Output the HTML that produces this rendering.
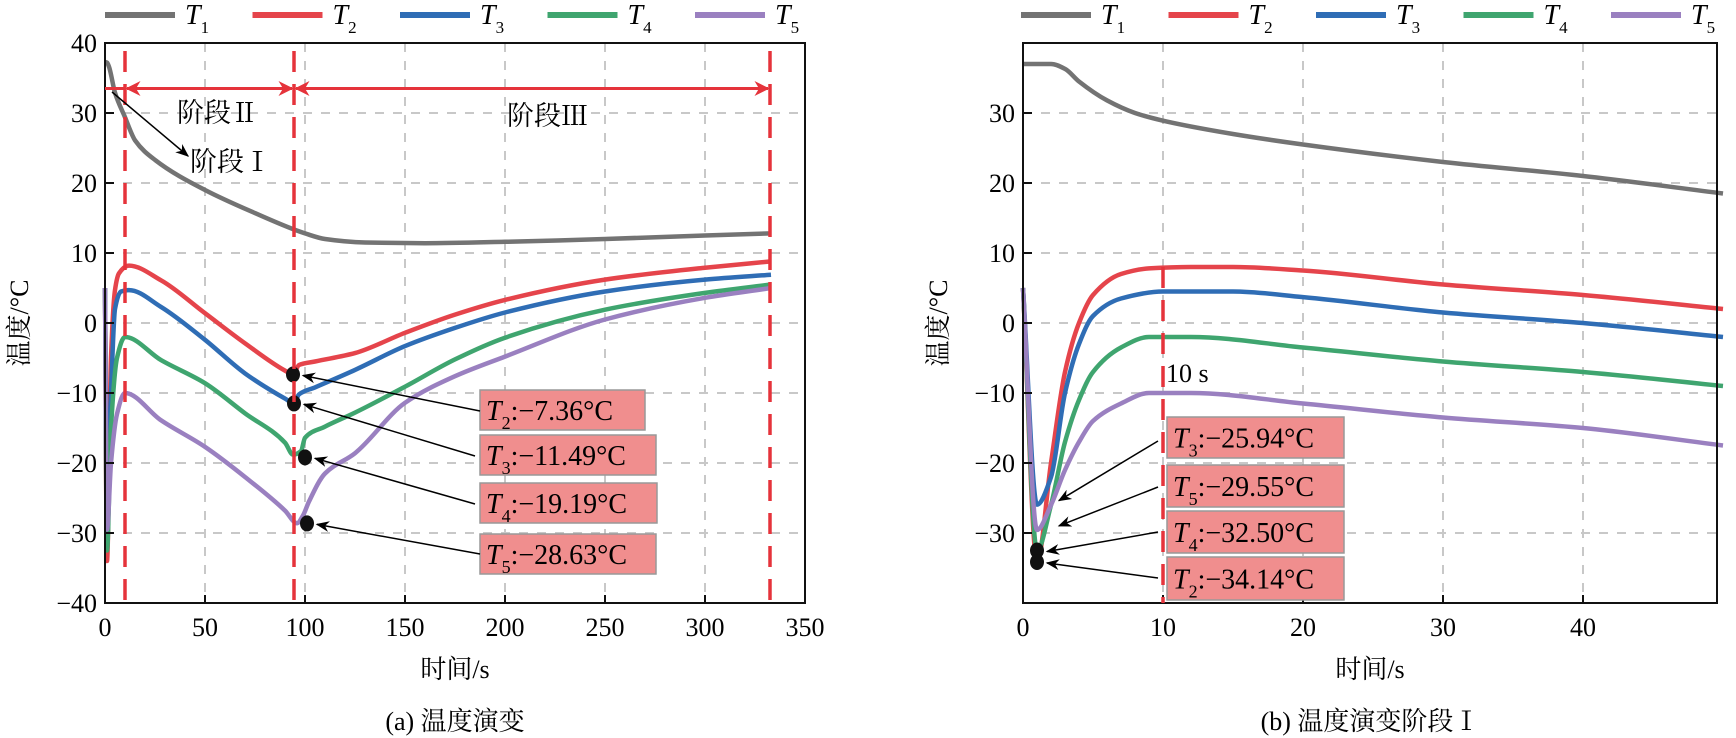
<!DOCTYPE html>
<html><head><meta charset="utf-8">
<style>
html,body{margin:0;padding:0;background:#fff;}
svg, svg text{font-family:"Liberation Serif","Noto Serif CJK SC",serif;}
svg{display:block;}
</style></head>
<body>
<svg id="chart" width="1736" height="738" viewBox="0 0 1736 738" xmlns="http://www.w3.org/2000/svg">
<defs>
<marker id="ah" viewBox="0 0 10 10" refX="9" refY="5" markerWidth="9" markerHeight="9" orient="auto-start-reverse"><path d="M0,1 L10,5 L0,9 L3,5 z" fill="#000"/></marker>
<marker id="ahr" viewBox="0 0 10 10" refX="9" refY="5" markerWidth="5" markerHeight="5" orient="auto-start-reverse"><path d="M0,0 L10,5 L0,10 L3,5 z" fill="#e5333b"/></marker>
</defs>
<g id="root"></g>
</svg>
<script>
// ---- data: panel (a) ----
const seriesNames = ["T1","T2","T3","T4","T5"];
const aT1x = [0,1,2,5,10,15,25,50,75,95,100,110,130,160,200,250,300,333];
const aT1y = [37.3,37.2,36.6,32.9,29.4,26.1,23.3,19,15.7,13.3,12.8,12.0,11.5,11.4,11.6,12.0,12.5,12.8];
const aT2x = [0,1,3,5,7,12,28,50,70,90,94,97,105,125,150,175,200,250,300,333];
const aT2y = [5,-34,-5,4.7,7.1,8.2,6.1,1.4,-2.9,-6.8,-7.36,-6.0,-5.5,-4.3,-1.4,1.2,3.3,6.2,7.9,8.8];
const aT3x = [0,1,3,5,8,12,28,50,70,90,94.5,97,105,125,150,175,200,250,300,333];
const aT3y = [5,-26,-10,2,4.5,4.7,2.3,-2.4,-7.2,-10.8,-11.49,-10.2,-9.2,-6.7,-3.3,-0.7,1.5,4.5,6.2,6.9];
const aT4x = [0,1,3,6,10,28,50,70,90,94,98,100,110,125,150,175,200,250,300,333];
const aT4y = [5,-32.5,-15,-5,-2,-5.3,-8.6,-12.9,-17.1,-18.8,-18.3,-16.4,-14.8,-12.8,-9.1,-5.2,-2.1,1.9,4.3,5.5];
const aT5x = [0,1,3,6,10,28,50,70,90,96,99,102,110,125,150,175,200,250,300,333];
const aT5y = [5,-29.5,-20,-13,-10,-13.9,-17.7,-22,-26.8,-28.6,-27.5,-25.5,-21.5,-18.6,-11.4,-7.6,-4.8,0.5,3.6,5.0];
const aMarkX = [94,94.5,100,101];
const aMarkY = [-7.36,-11.49,-19.19,-28.63];
const aMarkShow = [1,1,1,1];
const aMarkLabels = ["2:−7.36°C","3:−11.49°C","4:−19.19°C","5:−28.63°C"];
const aStageX = [10,94.5,332.5];
// ---- data: panel (b) ----
const bT1x = [0,2,3,4,6,8,10,15,20,30,40,50];
const bT1y = [37,37,36.3,34.5,31.8,30,28.9,27,25.5,23,21,18.5];
const bT2x = [0,1,2,3,4,5,7,9,12,15,20,30,40,50];
const bT2y = [5,-34.14,-20,-7,0,4,7,7.8,8,8,7.5,5.5,4,2];
const bT3x = [0,1,2,3,4,5,7,10,15,20,30,40,50];
const bT3y = [5,-25.94,-22,-10,-3,1,3.5,4.5,4.5,3.7,1.5,0,-2];
const bT4x = [0,1,2,3,4,5,7,9,12,20,30,40,50];
const bT4y = [5,-32.5,-26,-17,-11,-7,-3.5,-2,-2,-3.5,-5.5,-7,-9];
const bT5x = [0,1,2,3,4,5,7,9,12,20,30,40,50];
const bT5y = [5,-29.55,-26,-21,-17,-14,-11.5,-10,-10,-11.5,-13.5,-15,-17.5];
const bMarkX = [1,1,1,1];
const bMarkY = [-25.94,-29.55,-32.5,-34.14];
const bMarkShow = [0,0,1,1];
const bMarkLabels = ["3:−25.94°C","5:−29.55°C","4:−32.50°C","2:−34.14°C"];
const xTicksA = [0,50,100,150,200,250,300,350];
const xTicksB = [0,10,20,30,40];
const yTicksA = [40,30,20,10,0,-10,-20,-30,-40];
const yTicksB = [30,20,10,0,-10,-20,-30];

const colors = ["#737373","#e5444b","#2f6db5","#3fa56f","#9a80c0"];
const FONT = '"Liberation Serif","Noto Serif CJK SC",serif';
const NS = "http://www.w3.org/2000/svg";
const root = document.getElementById("root");
function el(tag, attrs, parent, text){
  const e = document.createElementNS(NS, tag);
  for (const k in attrs) e.setAttribute(k, attrs[k]);
  if (tag === "text") e.setAttribute("font-family", FONT);
  if (text !== undefined) e.textContent = text;
  (parent||root).appendChild(e);
  return e;
}
const TOP=43, BOT=603;
function yS(v){ return 323 - v*7; }
function xA(v){ return 105 + v*2; }
function xB(v){ return 1023 + v*14; }

// monotone cubic path
function smoothPath(X, Y){
  const n = X.length, d=[], m=[];
  for (let i=0;i<n-1;i++) d.push((Y[i+1]-Y[i])/(X[i+1]-X[i]));
  m[0]=d[0]; m[n-1]=d[n-2];
  for (let i=1;i<n-1;i++){ m[i] = (d[i-1]*d[i]<=0)?0:(3*(d[i-1]+d[i]))/((2/d[i-1])+(1/d[i-1])+(1/d[i])+(2/d[i])) ; 
    const w1=2*(X[i+1]-X[i])+(X[i]-X[i-1]), w2=(X[i+1]-X[i])+2*(X[i]-X[i-1]);
    if (d[i-1]*d[i]>0) m[i]=(w1+w2)/(w1/d[i-1]+w2/d[i]); }
  let s = "M"+X[0].toFixed(1)+","+Y[0].toFixed(1);
  for (let i=0;i<n-1;i++){
    const h=(X[i+1]-X[i])/3;
    s += " C"+(X[i]+h).toFixed(1)+","+(Y[i]+m[i]*h).toFixed(1)+" "+(X[i+1]-h).toFixed(1)+","+(Y[i+1]-m[i+1]*h).toFixed(1)+" "+X[i+1].toFixed(1)+","+Y[i+1].toFixed(1);
  }
  return s;
}

function panel(name, x0, x1, xs, xTicks, yTicks, sets, marks, show, labels, boxes, arrowStarts){
  const g = el("g", {});
  
  
  xTicks.forEach(t=>{ if(t===0) return; const X=xs(t); if(X>=x1) return;
    const l = el("line",{x1:X,x2:X,y1:TOP,y2:BOT,stroke:"#c8c8c8","stroke-width":2,"stroke-dasharray":"9,9"},g);
      });
  yTicks.forEach(t=>{ const Y=yS(t); if(Y<=TOP+1||Y>=BOT-1) return;
    const l = el("line",{x1:x0,x2:x1,y1:Y,y2:Y,stroke:"#c8c8c8","stroke-width":2,"stroke-dasharray":"9,9"},g);
      });
  sets.forEach((s,i)=>{
    const d = smoothPath(s[0].map(xs), s[1].map(yS));
    const p = el("path",{d:d,fill:"none",stroke:colors[i],"stroke-width":4.5,"stroke-linejoin":"round"},g);
    
    
  });
  const fr = el("rect",{x:x0,y:TOP,width:x1-x0,height:BOT-TOP,fill:"none",stroke:"#111","stroke-width":2},g);
   
  xTicks.forEach(t=>{ const X=xs(t);
    const l=el("line",{x1:X,x2:X,y1:BOT,y2:BOT-8,stroke:"#111","stroke-width":2},g);
     
    const tx=el("text",{x:X,y:BOT+33,"font-size":26,"text-anchor":"middle"},g,String(t));
      });
  yTicks.forEach(t=>{ const Y=yS(t);
    const l=el("line",{x1:x0,x2:x0+9,y1:Y,y2:Y,stroke:"#111","stroke-width":2},g);
     
    const tx=el("text",{x:x0-8,y:Y+9,"font-size":26,"text-anchor":"end"},g,t<0?"−"+(-t):String(t));
      });
  marks[0].forEach((mx,i)=>{
    const b = boxes[i];
    const r = el("rect",{x:b[0],y:b[1],width:b[2],height:b[3],fill:"#f08e8e",stroke:"#999","stroke-width":1.5},g);
     
    const t = el("text",{x:b[0]+6,y:b[1]+b[3]/2+10,"font-size":28},g);
     
    const lab = labels[i];
    el("tspan",{"font-style":"italic"},t,"T");
    el("tspan",{"font-size":18,dy:9},t,lab[0]);
    el("tspan",{dy:-9},t,lab.slice(1));
    const a = arrowStarts[i];
    const ar = el("line",{x1:a[0],y1:a[1],x2:xs(mx)+(show[i]?10:22),y2:yS(marks[1][i])+(show[i]?1:-4),stroke:"#000","stroke-width":1.5,"marker-end":"url(#ah)"},g);
     
    if (show[i]) {
      const c = el("ellipse",{cx:xs(mx),cy:yS(marks[1][i]),rx:7,ry:8,fill:"#111"},g);
       
    }
  });
  return g;
}

function legend(x0){
  seriesNames.forEach((n,i)=>{
    const lx = x0 + i*147.5;
    const l = el("line",{x1:lx,x2:lx+70,y1:15,y2:15,stroke:colors[i],"stroke-width":6});
     
    const t = el("text",{x:lx+80,y:24,"font-size":28});
     
    el("tspan",{"font-style":"italic"},t,"T");
    el("tspan",{"font-size":17,dy:9},t,n.slice(1));
  });
}

// ---------- Panel A ----------
const gA = panel("panel-a", 105, 805, xA, xTicksA, yTicksA,
  [[aT1x,aT1y],[aT2x,aT2y],[aT3x,aT3y],[aT4x,aT4y],[aT5x,aT5y]],
  [aMarkX,aMarkY], aMarkShow, aMarkLabels,
  [[480,390,165,40],[480,435,176,40],[480,483,177,40],[480,534,176,40]],
  [[480,411],[475,456],[475,504],[480,554]]);
aStageX.forEach(s=>{
  const l = el("line",{x1:xA(s),x2:xA(s),y1:TOP+8,y2:BOT,stroke:"#e5333b","stroke-width":3.5,"stroke-dasharray":"21,12"},gA);
   
});
const yArr = yS(33.5);
[[0,aStageX[0]],[aStageX[0],aStageX[1]],[aStageX[1],aStageX[2]]].forEach((p,i)=>{
  if(i===0){ const l=el("line",{x1:xA(p[0]),x2:xA(p[1]),y1:yArr,y2:yArr,stroke:"#e5333b","stroke-width":3},gA);
      return; }
  const l=el("line",{x1:xA(p[0])+2,x2:xA(p[1])-2,y1:yArr,y2:yArr,stroke:"#e5333b","stroke-width":3,"marker-start":"url(#ahr)","marker-end":"url(#ahr)"},gA);
   
});
let st;
st=el("text",{x:177,y:122,"font-size":27},gA,"阶段Ⅱ");  
st=el("text",{x:507,y:125,"font-size":27},gA,"阶段Ⅲ");  
st=el("text",{x:190,y:171,"font-size":27},gA,"阶段Ⅰ");  
st=el("line",{x1:112,y1:92,x2:188,y2:156,stroke:"#000","stroke-width":1.5,"marker-end":"url(#ah)"},gA);  

// ---------- Panel B ----------
const gB = panel("panel-b", 1023, 1717, xB, xTicksB, yTicksB,
  [[bT1x,bT1y],[bT2x,bT2y],[bT3x,bT3y],[bT4x,bT4y],[bT5x,bT5y]],
  [bMarkX,bMarkY], bMarkShow, bMarkLabels,
  [[1167,417,177,41],[1167,465,177,42],[1167,511,177,42],[1167,557,177,43]],
  [[1158,441],[1158,487],[1158,532],[1158,578]]);
st=el("line",{x1:xB(10),x2:xB(10),y1:yS(8),y2:BOT,stroke:"#e5333b","stroke-width":3.5,"stroke-dasharray":"21,12"},gB);
 
st=el("text",{x:1166,y:382,"font-size":26},gB,"10 s");  

legend(105);
legend(1021);

[["x-axis-title-a",455,678,"时间/s"],["x-axis-title-b",1370,678,"时间/s"],["caption-a",455,730,"(a) 温度演变"],["caption-b",1370,730,"(b) 温度演变阶段Ⅰ"]].forEach(c=>{
  const t=el("text",{x:c[1],y:c[2],"font-size":26,"text-anchor":"middle"},root,c[3]);
   
});
[["y-axis-title-a",28],["y-axis-title-b",947]].forEach(c=>{
  const t=el("text",{x:c[1],y:323,"font-size":26,"text-anchor":"middle",transform:"rotate(-90 "+c[1]+" 323)"},root,"温度/°C");
   
});
</script>
</body></html>
